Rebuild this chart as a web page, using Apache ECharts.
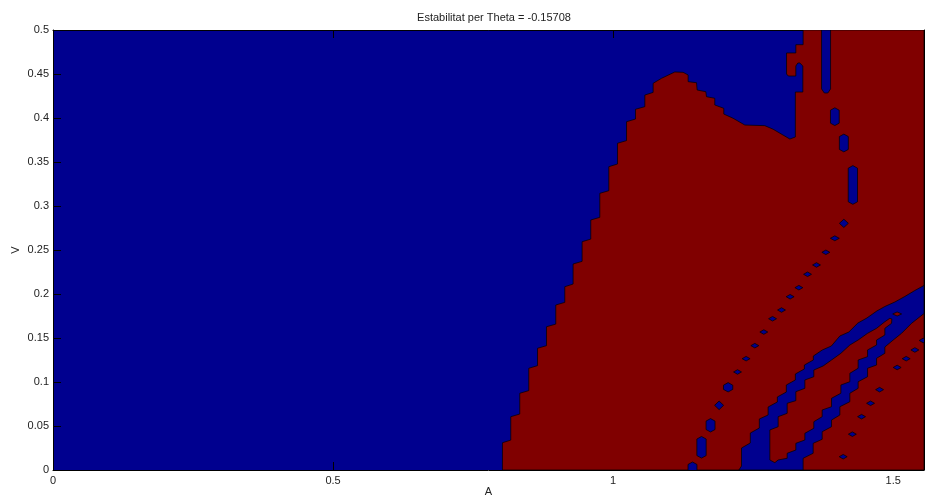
<!DOCTYPE html>
<html>
<head>
<meta charset="utf-8">
<script src="https://cdn.jsdelivr.net/npm/echarts@6/dist/echarts.min.js"></script>
<style>
  html, body { margin: 0; padding: 0; background: #ffffff; }
  #chart { width: 925px; height: 500px; }
</style>
</head>
<body>
<div id="chart"></div>
<script>
// ---- Data (A on x, V on y) ----
const titleText = 'Estabilitat per Theta = -0.15708';
const xName = 'A';
const yName = 'V';
const xRange = [0, 1.555];
const yRange = [0, 0.5];

// Unstable (red) region outline, [A, V]
const redRegion = [
  [0.8024,0],
  [0.8024,0.0310],[0.8173,0.0340],
  [0.8173,0.0606],[0.8333,0.0636],
  [0.8333,0.0872],[0.8494,0.0902],
  [0.8494,0.1156],[0.8650,0.1186],
  [0.8650,0.1383],[0.8810,0.1413],
  [0.8810,0.1628],[0.8976,0.1658],
  [0.8976,0.1875],[0.9137,0.1905],
  [0.9137,0.2083],[0.9285,0.2113],
  [0.9285,0.2341],[0.9446,0.2371],
  [0.9446,0.2594],[0.9601,0.2624],
  [0.9601,0.2841],[0.9762,0.2871],
  [0.9762,0.3144],[0.9923,0.3174],
  [0.9923,0.3447],[1.0078,0.3477],
  [1.0078,0.3713],[1.0239,0.3743],
  [1.0239,0.3958],[1.0399,0.3988],
  [1.0399,0.4099],[1.0566,0.4129],
  [1.0566,0.4261],[1.0714,0.4291],
  [1.0714,0.4394],[1.0864,0.4451],[1.1101,0.4523],[1.1249,0.4519],
  [1.1339,0.4489],[1.1339,0.4413],[1.1489,0.4401],[1.1500,0.4318],
  [1.1655,0.4299],[1.1667,0.4242],[1.1815,0.4224],[1.1815,0.4148],
  [1.1976,0.4110],[1.1976,0.4045],[1.2142,0.3997],[1.2351,0.3920],
  [1.2708,0.3913],[1.2857,0.3872],[1.3155,0.3761],[1.3253,0.3784],
  [1.3253,0.4295],[1.3387,0.4295],[1.3387,0.4591],[1.3333,0.4625],
  [1.3298,0.4625],[1.3262,0.4591],[1.3262,0.4477],[1.3128,0.4477],
  [1.3096,0.4500],[1.3096,0.4739],[1.3262,0.4739],[1.3262,0.4833],
  [1.3392,0.4833],[1.3392,0.5],[1.555,0.5],[1.555,0]
];

// Stable (blue) finger hanging from the top edge
const blueTopStripe = [
  [1.3721,0.5],[1.3882,0.5],[1.3882,0.4330],[1.3833,0.4284],[1.3771,0.4284],[1.3721,0.4330]
];

// Stable (blue) double band in the lower right
const blueBand = [
  [1.2245,0],[1.2292,0.0045],[1.2292,0.0250],[1.2449,0.0307],[1.2449,0.0420],
  [1.2610,0.0477],[1.2610,0.0580],[1.2767,0.0625],[1.2767,0.0716],[1.2932,0.0773],
  [1.2932,0.0830],[1.3092,0.0886],[1.3092,0.0966],[1.3253,0.1023],[1.3253,0.1091],
  [1.3414,0.1148],[1.3414,0.1193],[1.3574,0.1250],[1.3574,0.1295],[1.3735,0.1364],
  [1.3896,0.1409],[1.4048,0.1523],[1.4208,0.1568],[1.4369,0.1670],[1.4530,0.1727],
  [1.4708,0.1807],[1.4851,0.1858],[1.5030,0.1909],[1.5208,0.1972],[1.5387,0.2040],
  [1.555,0.2097],
  [1.555,0.1778],[1.5328,0.1667],[1.5149,0.1553],[1.5000,0.1477],[1.4851,0.1398],
  [1.4851,0.1326],[1.4703,0.1269],[1.4703,0.1193],[1.4542,0.1156],[1.4542,0.1060],
  [1.4374,0.1003],[1.4374,0.0928],[1.4226,0.0872],[1.4226,0.0776],[1.4048,0.0719],
  [1.4048,0.0625],[1.3899,0.0568],[1.3899,0.0492],[1.3732,0.0435],[1.3732,0.0349],
  [1.3571,0.0303],[1.3571,0.0190],[1.3392,0.0133],[1.3392,0]
];

// Unstable (red) strip between the two blue bands
const redStrip = [
  [1.2887,0.0083],[1.2798,0.0114],[1.2798,0.0455],[1.2946,0.0492],[1.2946,0.0606],
  [1.3107,0.0644],[1.3107,0.0758],[1.3262,0.0788],[1.3262,0.0890],[1.3423,0.0928],
  [1.3423,0.1023],[1.3583,0.1060],[1.3583,0.1136],[1.3749,0.1182],[1.3899,0.1250],
  [1.4066,0.1326],[1.4226,0.1420],[1.4374,0.1477],[1.4542,0.1553],[1.4703,0.1610],
  [1.4851,0.1685],[1.4940,0.1724],[1.4976,0.1716],
  [1.4971,0.1667],[1.4851,0.1610],[1.4851,0.1534],[1.4703,0.1477],[1.4703,0.1420],
  [1.4542,0.1364],[1.4542,0.1288],[1.4374,0.1250],[1.4374,0.1156],[1.4226,0.1099],
  [1.4226,0.1003],[1.4066,0.0966],[1.4066,0.0872],[1.3899,0.0815],[1.3899,0.0719],
  [1.3732,0.0682],[1.3732,0.0606],[1.3583,0.0549],[1.3583,0.0474],[1.3423,0.0417],
  [1.3423,0.0341],[1.3262,0.0303],[1.3262,0.0227],[1.3107,0.0190],[1.3107,0.0133],
  [1.2946,0.0114]
];

// Small islands: [A centre, V centre, A half-width, V half-height]
const redSpots = [
  [1.5071,0.1773,0.0080,0.0023]
];
const blueSpots = [
  [1.3958,0.4015,0.0078,0.0101],
  [1.4119,0.3716,0.0080,0.0101],
  [1.4280,0.3239,0.0083,0.0220],
  [1.4119,0.2803,0.0080,0.0047],
  [1.3958,0.2633,0.0080,0.0028],
  [1.3798,0.2474,0.0071,0.0026],
  [1.3631,0.2330,0.0071,0.0026],
  [1.3471,0.2224,0.0071,0.0026],
  [1.3316,0.2072,0.0071,0.0026],
  [1.3160,0.1969,0.0071,0.0026],
  [1.3006,0.1818,0.0071,0.0026],
  [1.2846,0.1719,0.0071,0.0026],
  [1.2690,0.1568,0.0071,0.0026],
  [1.2530,0.1413,0.0071,0.0026],
  [1.2374,0.1265,0.0071,0.0026],
  [1.2221,0.1114,0.0071,0.0026],
  [1.2053,0.0940,0.0083,0.0053],
  [1.1892,0.0735,0.0080,0.0049],
  [1.1739,0.0508,0.0080,0.0076],
  [1.1578,0.0258,0.0083,0.0123],
  [1.1417,0.0011,0.0080,0.0080],
  [1.4107,0.0151,0.0071,0.0026],
  [1.4271,0.0407,0.0071,0.0026],
  [1.4435,0.0606,0.0071,0.0026],
  [1.4596,0.0758,0.0071,0.0026],
  [1.4757,0.0913,0.0071,0.0026],
  [1.5071,0.1165,0.0071,0.0026],
  [1.5232,0.1265,0.0071,0.0026],
  [1.5387,0.1364,0.0071,0.0026],
  [1.5535,0.1472,0.0071,0.0026]
];

// ---- Styling ----
const BLUE = '#00008f';
const RED = '#800000';
const EDGE = '#000000';
const FONT = 'Liberation Sans, Arial, Helvetica, sans-serif';

function polygonSeries(pts, color) {
  return {
    type: 'custom',
    coordinateSystem: 'cartesian2d',
    clip: true,
    silent: true,
    animation: false,
    data: [pts[0]],
    renderItem: function (params, api) {
      return {
        type: 'polygon',
        shape: { points: pts.map(function (p) { return api.coord(p); }) },
        style: { fill: color, stroke: EDGE, lineWidth: 0.7 }
      };
    }
  };
}

function spotSeries(spots, color) {
  return {
    type: 'custom',
    coordinateSystem: 'cartesian2d',
    clip: true,
    silent: true,
    animation: false,
    data: spots,
    renderItem: function (params, api) {
      const c = api.coord([api.value(0), api.value(1)]);
      const s = api.size([api.value(2), api.value(3)]);
      const w = s[0], h = s[1];
      const k = h < w ? h : w * 0.55;
      const pts = [
        [c[0], c[1] - h],
        [c[0] + w, c[1] - h + k],
        [c[0] + w, c[1] + h - k],
        [c[0], c[1] + h],
        [c[0] - w, c[1] + h - k],
        [c[0] - w, c[1] - h + k]
      ];
      return {
        type: 'polygon',
        shape: { points: pts },
        style: { fill: color, stroke: EDGE, lineWidth: 0.7 }
      };
    }
  };
}

const axisText = { color: '#222', fontFamily: FONT, fontSize: 11 };

const chart = echarts.init(document.getElementById('chart'), null, { renderer: 'canvas' });
chart.setOption({
  animation: false,
  backgroundColor: '#ffffff',
  title: {
    text: titleText,
    left: 489,
    textAlign: 'center',
    top: 7,
    textStyle: { color: '#222', fontFamily: FONT, fontSize: 11, fontWeight: 'normal' }
  },
  grid: {
    left: 53, right: 1, top: 30, bottom: 30,
    containLabel: false,
    outerBoundsMode: 'none',
    show: true, backgroundColor: BLUE, borderWidth: 0
  },
  xAxis: [{
    type: 'value', min: xRange[0], max: xRange[1], interval: 0.5,
    name: xName, nameLocation: 'middle', nameGap: 16, nameMoveOverlap: false,
    nameTextStyle: axisText,
    axisLine: { show: true, onZero: false, lineStyle: { color: '#000', width: 1 } },
    axisTick: { show: true, inside: true, length: 8, lineStyle: { color: '#000' } },
    axisLabel: Object.assign({ margin: 5, showMaxLabel: false }, axisText),
    splitLine: { show: false }
  }, {
    type: 'value', min: xRange[0], max: xRange[1], interval: 0.5, position: 'top',
    axisLine: { show: true, onZero: false, lineStyle: { color: '#000', width: 1 } },
    axisTick: { show: true, inside: true, length: 8, lineStyle: { color: '#000' } },
    axisLabel: { show: false },
    splitLine: { show: false }
  }],
  yAxis: [{
    type: 'value', min: yRange[0], max: yRange[1], interval: 0.05,
    name: yName, nameLocation: 'middle', nameGap: 32, nameRotate: 90, nameMoveOverlap: false,
    nameTextStyle: axisText,
    axisLine: { show: true, onZero: false, lineStyle: { color: '#000', width: 1 } },
    axisTick: { show: true, inside: true, length: 8, lineStyle: { color: '#000' } },
    axisLabel: Object.assign({ margin: 4 }, axisText),
    splitLine: { show: false }
  }, {
    type: 'value', min: yRange[0], max: yRange[1], interval: 0.05, position: 'right',
    axisLine: { show: true, onZero: false, lineStyle: { color: '#000', width: 1 } },
    axisTick: { show: true, inside: true, length: 8, lineStyle: { color: '#000' } },
    axisLabel: { show: false },
    splitLine: { show: false }
  }],
  series: [
    polygonSeries(redRegion, RED),
    polygonSeries(blueTopStripe, BLUE),
    polygonSeries(blueBand, BLUE),
    polygonSeries(redStrip, RED),
    spotSeries(redSpots, RED),
    spotSeries(blueSpots, BLUE)
  ]
});
</script>
</body>
</html>
